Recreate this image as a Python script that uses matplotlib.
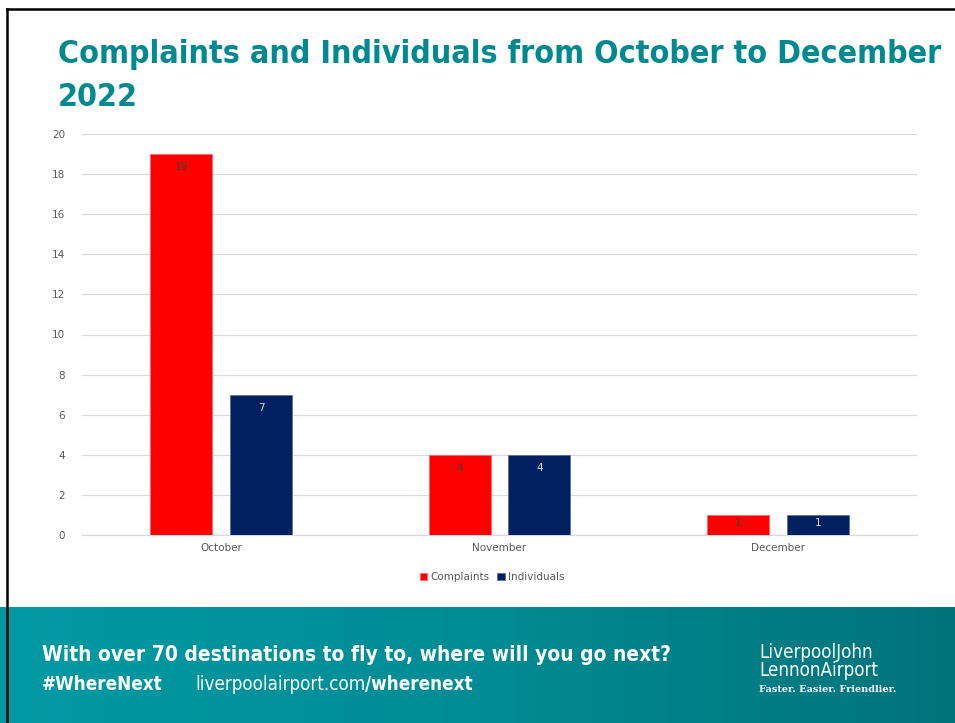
import numpy as np
import matplotlib
matplotlib.use("Agg")
import matplotlib.pyplot as plt
from matplotlib.lines import Line2D
from matplotlib.colors import LinearSegmentedColormap

# ---- data ----
months = ["October", "November", "December"]
complaints = [19, 4, 1]
individuals = [7, 4, 1]
series_names = ["Complaints", "Individuals"]
yticks = [0, 2, 4, 6, 8, 10, 12, 14, 16, 18, 20]

W, H = 955, 723
fig = plt.figure(figsize=(W / 100, H / 100), dpi=100)
fig.patch.set_facecolor("white")

def fx(px):
    return px / W

def fy(py):
    return 1 - py / H

# ---- main chart ----
ax_h_px = 535 - 134
ax = fig.add_axes([fx(82), fy(535), fx(917) - fx(82), fy(134) - fy(535)])
x = np.arange(len(months)) + 0.5
bw = 0.222
off = 0.143
red = "#FF0000"
navy = "#002060"
b1 = ax.bar(x - off, complaints, bw, color=red, edgecolor="#FF6666", linewidth=0.6,
            label=series_names[0], zorder=3)
b2 = ax.bar(x + off, individuals, bw, color=navy, edgecolor="#5A6E9A", linewidth=0.6,
            label=series_names[1], zorder=3)

def label_bars(bars, vals, color):
    for rect, v in zip(bars, vals):
        hpx = v / 20 * ax_h_px
        offset = min(13, hpx * 0.4)
        ax.annotate(str(v), (rect.get_x() + rect.get_width() / 2, v), xytext=(0, -offset),
                    textcoords="offset pixels", ha="center", va="center",
                    fontsize=7.5, color=color, zorder=4)

label_bars(b1, complaints, "#404040")
label_bars(b2, individuals, "#D9D9D9")

ax.set_xlim(0, 3)
ax.set_ylim(0, 20)
ax.set_yticks(yticks)
ax.set_xticks(x)
ax.set_xticklabels(months)
ax.tick_params(axis="both", length=0, labelsize=7.5, labelcolor="#595959")
ax.tick_params(axis="y", pad=12)
ax.tick_params(axis="x", pad=6)
ax.grid(axis="y", color="#D9D9D9", linewidth=0.9, zorder=0)
for s in ["top", "right", "left"]:
    ax.spines[s].set_visible(False)
ax.spines["bottom"].set_color("#D9D9D9")
ax.spines["bottom"].set_linewidth(0.9)
ax.set_facecolor("white")

leg = fig.legend(handles=[b1, b2], labels=series_names, loc="center",
                 bbox_to_anchor=(fx(492), fy(577)), ncol=2, frameon=False,
                 fontsize=7.5, handlelength=0.7, handleheight=0.7, handletextpad=0.3,
                 columnspacing=0.8)
for t in leg.get_texts():
    t.set_color("#595959")

# ---- title ----
teal = "#00898E"
fig.text(fx(58), fy(55), "Complaints and Individuals from October to December",
         fontsize=23, fontweight="bold", color=teal, ha="left", va="center",
         family="DejaVu Sans", fontstretch="condensed")
fig.text(fx(58), fy(97), "2022", fontsize=23, fontweight="bold", color=teal,
         ha="left", va="center", family="DejaVu Sans", fontstretch="condensed")

# ---- banner ----
bax = fig.add_axes([0, 0, 1, fy(607)])
cmap = LinearSegmentedColormap.from_list("ban", ["#009AA4", "#008C95", "#00737A"])
grad = np.linspace(0, 1, 256).reshape(1, -1)
bax.imshow(grad, aspect="auto", cmap=cmap, extent=[0, 1, 0, 1])
bax.set_xlim(0, 1)
bax.set_ylim(0, 1)
bax.axis("off")

fig.text(fx(42), fy(655), "With over 70 destinations to fly to, where will you go next?",
         fontsize=15, fontweight="bold", color="white", ha="left", va="center",
         family="DejaVu Sans", fontstretch="condensed")
fig.text(fx(42), fy(685), "#WhereNext", fontsize=13.5, fontweight="bold", color="white",
         ha="left", va="center", family="DejaVu Sans", fontstretch="condensed")
t1 = fig.text(fx(195), fy(685), "liverpoolairport.com", fontsize=13.5, color="white",
              ha="left", va="center", family="DejaVu Sans", fontstretch="condensed")
fig.canvas.draw()
bb = t1.get_window_extent()
fig.text(bb.x1 / W, fy(685), "/wherenext", fontsize=13.5, fontweight="bold", color="white",
         ha="left", va="center", family="DejaVu Sans", fontstretch="condensed")

fig.text(fx(759), fy(652), "LiverpoolJohn", fontsize=13.5, color="white", ha="left",
         va="center", family="DejaVu Sans", fontstretch="condensed")
fig.text(fx(759), fy(670), "LennonAirport", fontsize=13.5, color="white", ha="left",
         va="center", family="DejaVu Sans", fontstretch="condensed")
fig.text(fx(759), fy(689), "Faster. Easier. Friendlier.", fontsize=7, color="white",
         ha="left", va="center", family="DejaVu Serif", fontweight="bold")

# ---- slide border ----
fig.add_artist(Line2D([fx(6.5), 1], [fy(8.5), fy(8.5)], color="black", linewidth=1.8,
                      transform=fig.transFigure))
fig.add_artist(Line2D([fx(6.5), fx(6.5)], [fy(8.5), 0], color="black", linewidth=1.8,
                      transform=fig.transFigure, zorder=10))

fig.savefig("out.png", dpi=100)
